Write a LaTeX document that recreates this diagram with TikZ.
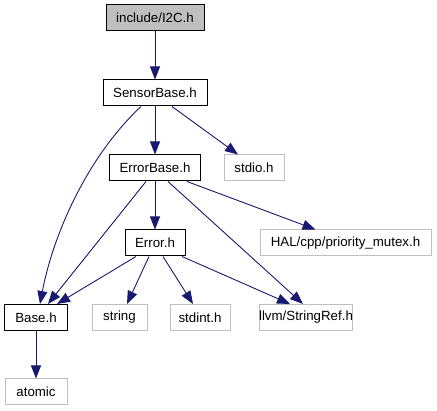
\documentclass[tikz,border=0pt]{standalone}
\usepackage{fontspec}
\setmainfont{Liberation Sans}
\usetikzlibrary{arrows.meta}
\definecolor{edgeblue}{HTML}{191970}
\definecolor{grayb}{HTML}{BFBFBF}
\tikzset{
  doc/.style={draw=black, line width=1pt, rectangle, minimum height=26pt, inner sep=0pt, font=\fontsize{13.3}{15}\selectfont},
  ext/.style={draw=grayb, line width=1pt, rectangle, minimum height=26pt, inner sep=0pt, font=\fontsize{13.3}{15}\selectfont},
  edge/.style={draw=edgeblue, line width=0.9pt, -{Triangle[length=13pt,width=10pt]}}
}
\begin{document}
\begin{tikzpicture}[x=1pt,y=-1pt]
\useasboundingbox (0,0) rectangle (437,411);
\node[doc, fill=grayb, minimum width=98pt] (i2c) at (155,18) {include/I2C.h};
\node[doc, minimum width=104pt] (sb) at (155,93) {SensorBase.h};
\node[doc, minimum width=91pt] (eb) at (155,168) {ErrorBase.h};
\node[ext, minimum width=60pt] (stdio) at (254,168) {stdio.h};
\node[doc, minimum width=60pt] (err) at (155,243) {Error.h};
\node[ext, minimum width=171pt] (hal) at (345.5,243) {HAL/cpp/priority\_mutex.h};
\node[doc, minimum width=63pt] (base) at (36,317.5) {Base.h};
\node[ext, minimum width=55pt] (string) at (119.5,317.5) {string};
\node[ext, minimum width=60pt] (stdint) at (200,317.5) {stdint.h};
\node[ext, minimum width=92pt] (llvm) at (306,317.5) {llvm/StringRef.h};
\node[ext, minimum width=62pt] (atomic) at (36,392) {atomic};

\draw[edge] (i2c.south) -- (sb.north);
\draw[edge] (sb.south) -- (eb.north);
\draw[edge] ([xshift=17pt]sb.south) -- ([xshift=-16pt]stdio.north);
\draw[edge] ([xshift=-14pt]sb.south) .. controls (84,160) and (52,240) .. ([xshift=4pt]base.north);
\draw[edge] ([xshift=-9pt]eb.south) -- ([xshift=12pt]base.north);
\draw[edge] (eb.south) -- (err.north);
\draw[edge] ([xshift=13pt]eb.south) -- ([xshift=-3pt]llvm.north);
\draw[edge] ([xshift=32pt]eb.south) -- ([xshift=-30pt]hal.north);
\draw[edge] ([xshift=-19pt]err.south) -- ([xshift=21pt]base.north);
\draw[edge] ([xshift=-6pt]err.south) -- ([xshift=7.5pt]string.north);
\draw[edge] ([xshift=8pt]err.south) -- ([xshift=-7pt]stdint.north);
\draw[edge] ([xshift=27pt]err.south) -- ([xshift=-16pt]llvm.north);
\draw[edge] (base.south) -- (atomic.north);
\end{tikzpicture}
\end{document}
